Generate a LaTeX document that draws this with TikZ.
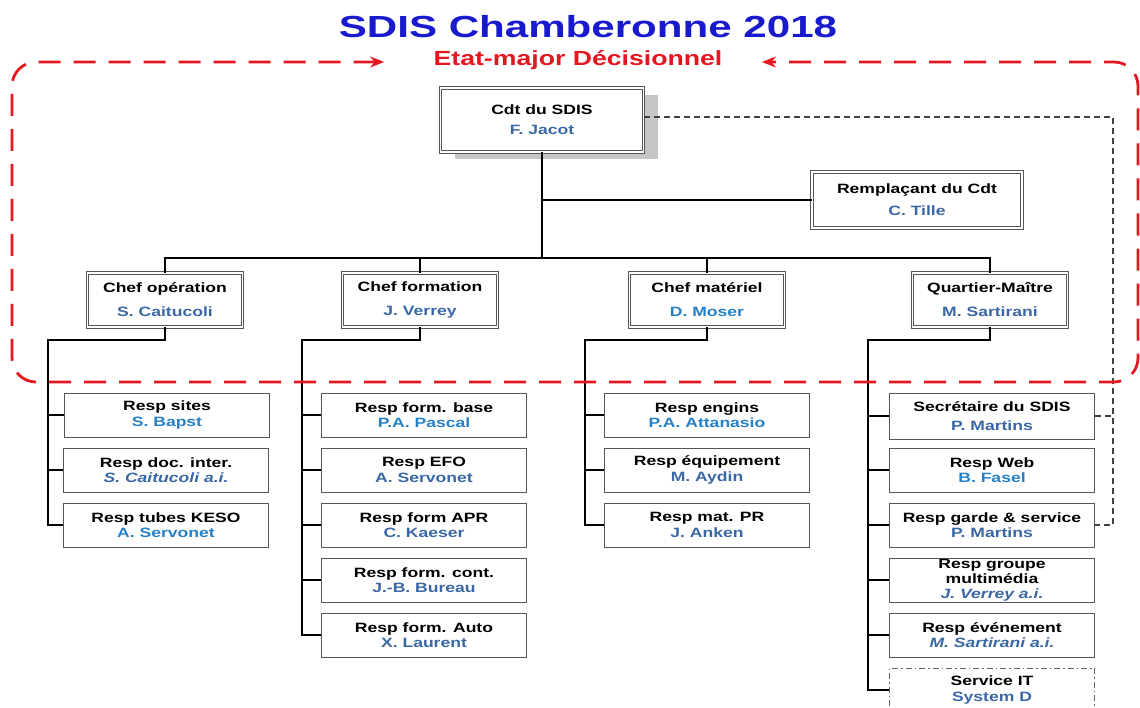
\documentclass[tikz,border=0pt]{standalone}
\usepackage{fontspec}
\setmainfont{Liberation Sans}[FakeStretch=1.3]
\newfontfamily\titlefont{Liberation Sans}[FakeStretch=1.38]
\usetikzlibrary{positioning,arrows.meta,shadows,calc}
\definecolor{titleblue}{RGB}{25,25,205}
\definecolor{framered}{RGB}{228,22,32}
\definecolor{namedark}{RGB}{58,104,165}
\definecolor{namelight}{RGB}{38,128,198}
\definecolor{boxgray}{RGB}{85,85,85}

\begin{document}
\begin{tikzpicture}[x=1pt,y=-1pt,
link/.style = {draw=black, line width=1.2pt},
]

\tikzstyle{cdtbox}=[rectangle, draw=boxgray, double=white, double distance=1.3pt, line width=0.9pt, fill=white, minimum width=203, minimum height=64, align=center, font=\bfseries\fontsize{13.5}{16}\selectfont, drop shadow={shadow xshift=14pt, shadow yshift=-7pt, fill=gray!45, opacity=1}]
\tikzstyle{chefbox}=[rectangle, draw=boxgray, double=white, double distance=1.3pt, line width=0.9pt, fill=white, minimum width=155, minimum height=54, align=center, font=\bfseries\fontsize{13.5}{16}\selectfont]
\tikzstyle{respbox}=[rectangle, draw=boxgray, line width=1pt, fill=white, minimum width=205, minimum height=44, inner ysep=1pt, align=center, font=\bfseries\fontsize{13.5}{15.5}\selectfont]
\tikzstyle{itbox}=[respbox, draw=gray!80!black, dash pattern=on 6pt off 3pt on 1.5pt off 3pt]
\tikzstyle{redframe}=[draw=framered, line width=2.8pt, dash pattern=on 22pt off 13pt, rounded corners=24pt]
\tikzstyle{dotlink}=[draw=black!75, line width=1.2pt, dash pattern=on 6pt off 4pt]

\useasboundingbox (0,0) rectangle (1140,708);

\node (title) at (588,27) [font=\titlefont\bfseries\fontsize{30.5}{32}\selectfont, text=titleblue] {SDIS Chamberonne 2018};
\node (etat) at (578,60) [font=\bfseries\fontsize{20.5}{22}\selectfont, text=framered] {Etat-major Décisionnel};

% direction
\node (cdt) at (542,120) [cdtbox] {Cdt du SDIS\\[4pt]\textcolor{namedark}{F. Jacot}};
\node (remp) at (917,200) [chefbox, minimum width=210, minimum height=56] {Remplaçant du Cdt\\[6pt]\textcolor{namedark}{C. Tille}};

\node (chefop) at (165,300) [chefbox] {Chef opération\\[8pt]\textcolor{namedark}{S. Caitucoli}};
\node (chefform) at (420,300) [chefbox] {Chef formation\\[8pt]\textcolor{namedark}{J. Verrey}};
\node (chefmat) at (707,300) [chefbox] {Chef matériel\\[8pt]\textcolor{namelight}{D. Moser}};
\node (chefqm) at (990,300) [chefbox] {Quartier-Maître\\[8pt]\textcolor{namedark}{M. Sartirani}};

% operation
\node (r11) at (167,415) [respbox] {Resp sites\\\textcolor{namelight}{S. Bapst}};
\node (r12) at (166,470) [respbox] {Resp doc. inter.\\\textcolor{namedark}{\itshape S. Caitucoli a.i.}};
\node (r13) at (166,525) [respbox] {Resp tubes KESO\\\textcolor{namelight}{A. Servonet}};

% formation
\node (r21) at (424,415) [respbox] {Resp form. base\\\textcolor{namelight}{P.A. Pascal}};
\node (r22) at (424,470) [respbox] {Resp EFO\\\textcolor{namedark}{A. Servonet}};
\node (r23) at (424,525) [respbox] {Resp form APR\\\textcolor{namedark}{C. Kaeser}};
\node (r24) at (424,580) [respbox] {Resp form. cont.\\\textcolor{namedark}{J.-B. Bureau}};
\node (r25) at (424,635) [respbox] {Resp form. Auto\\\textcolor{namedark}{X. Laurent}};

% materiel
\node (r31) at (707,415) [respbox] {Resp engins\\\textcolor{namelight}{P.A. Attanasio}};
\node (r32) at (707,470) [respbox] {Resp équipement\\\textcolor{namedark}{M. Aydin}};
\node (r33) at (707,525) [respbox] {Resp mat. PR\\\textcolor{namedark}{J. Anken}};

% quartier-maitre
\node (r41) at (992,416) [respbox, minimum height=46] {Secrétaire du SDIS\\[4pt]\textcolor{namedark}{P. Martins}};
\node (r42) at (992,470) [respbox] {Resp Web\\\textcolor{namelight}{B. Fasel}};
\node (r43) at (992,525) [respbox] {Resp garde \& service\\\textcolor{namedark}{P. Martins}};
\node (r44) at (992,580) [respbox, inner ysep=0pt, font=\bfseries\fontsize{13.5}{15}\selectfont] {Resp groupe\\multimédia\\\textcolor{namedark}{\itshape J. Verrey a.i.}};
\node (r45) at (992,635) [respbox] {Resp événement\\\textcolor{namedark}{\itshape M. Sartirani a.i.}};
\node (r46) at (992,690) [itbox] {Service IT\\\textcolor{namedark}{System D}};

\coordinate (bus) at (542,258);
\coordinate (t1) at (48,340);
\coordinate (t2) at (302,340);
\coordinate (t3) at (585,340);
\coordinate (t4) at (868,340);
\coordinate (side) at (1113,117);

\draw[link] (cdt.south) -- (bus);
\draw[link] (cdt.south |- remp.west) -- (remp.west);
\draw[link] (chefop.north) |- (bus) -| (chefqm.north);
\draw[link] (chefform.north) -- (chefform.north |- bus);
\draw[link] (chefmat.north) -- (chefmat.north |- bus);

\draw[link] (chefop.south) |- (t1) |- (r13.west);
\draw[link] (t1 |- r11.west) -- (r11.west);
\draw[link] (t1 |- r12.west) -- (r12.west);

\draw[link] (chefform.south) |- (t2) |- (r25.west);
\draw[link] (t2 |- r21.west) -- (r21.west);
\draw[link] (t2 |- r22.west) -- (r22.west);
\draw[link] (t2 |- r23.west) -- (r23.west);
\draw[link] (t2 |- r24.west) -- (r24.west);

\draw[link] (chefmat.south) |- (t3) |- (r33.west);
\draw[link] (t3 |- r31.west) -- (r31.west);
\draw[link] (t3 |- r32.west) -- (r32.west);

\draw[link] (chefqm.south) |- (t4) |- (r46.west);
\draw[link] (t4 |- r41.west) -- (r41.west);
\draw[link] (t4 |- r42.west) -- (r42.west);
\draw[link] (t4 |- r43.west) -- (r43.west);
\draw[link] (t4 |- r44.west) -- (r44.west);
\draw[link] (t4 |- r45.west) -- (r45.west);

\draw[dotlink] (cdt.east |- side) -- (side) -- (side |- r43.east) -- (r43.east);
\draw[dotlink] (r41.east) -- (side |- r41.east);

\draw[redframe, {Stealth[length=14pt,width=11pt]}-{Stealth[length=14pt,width=11pt]}] ([xshift=-46pt]etat.west |- 0,62) -- (12,62) -- (12,382) -- (1138,382) -- (1138,62) -- ([xshift=36pt]etat.east |- 0,62);
\end{tikzpicture}
\end{document}
